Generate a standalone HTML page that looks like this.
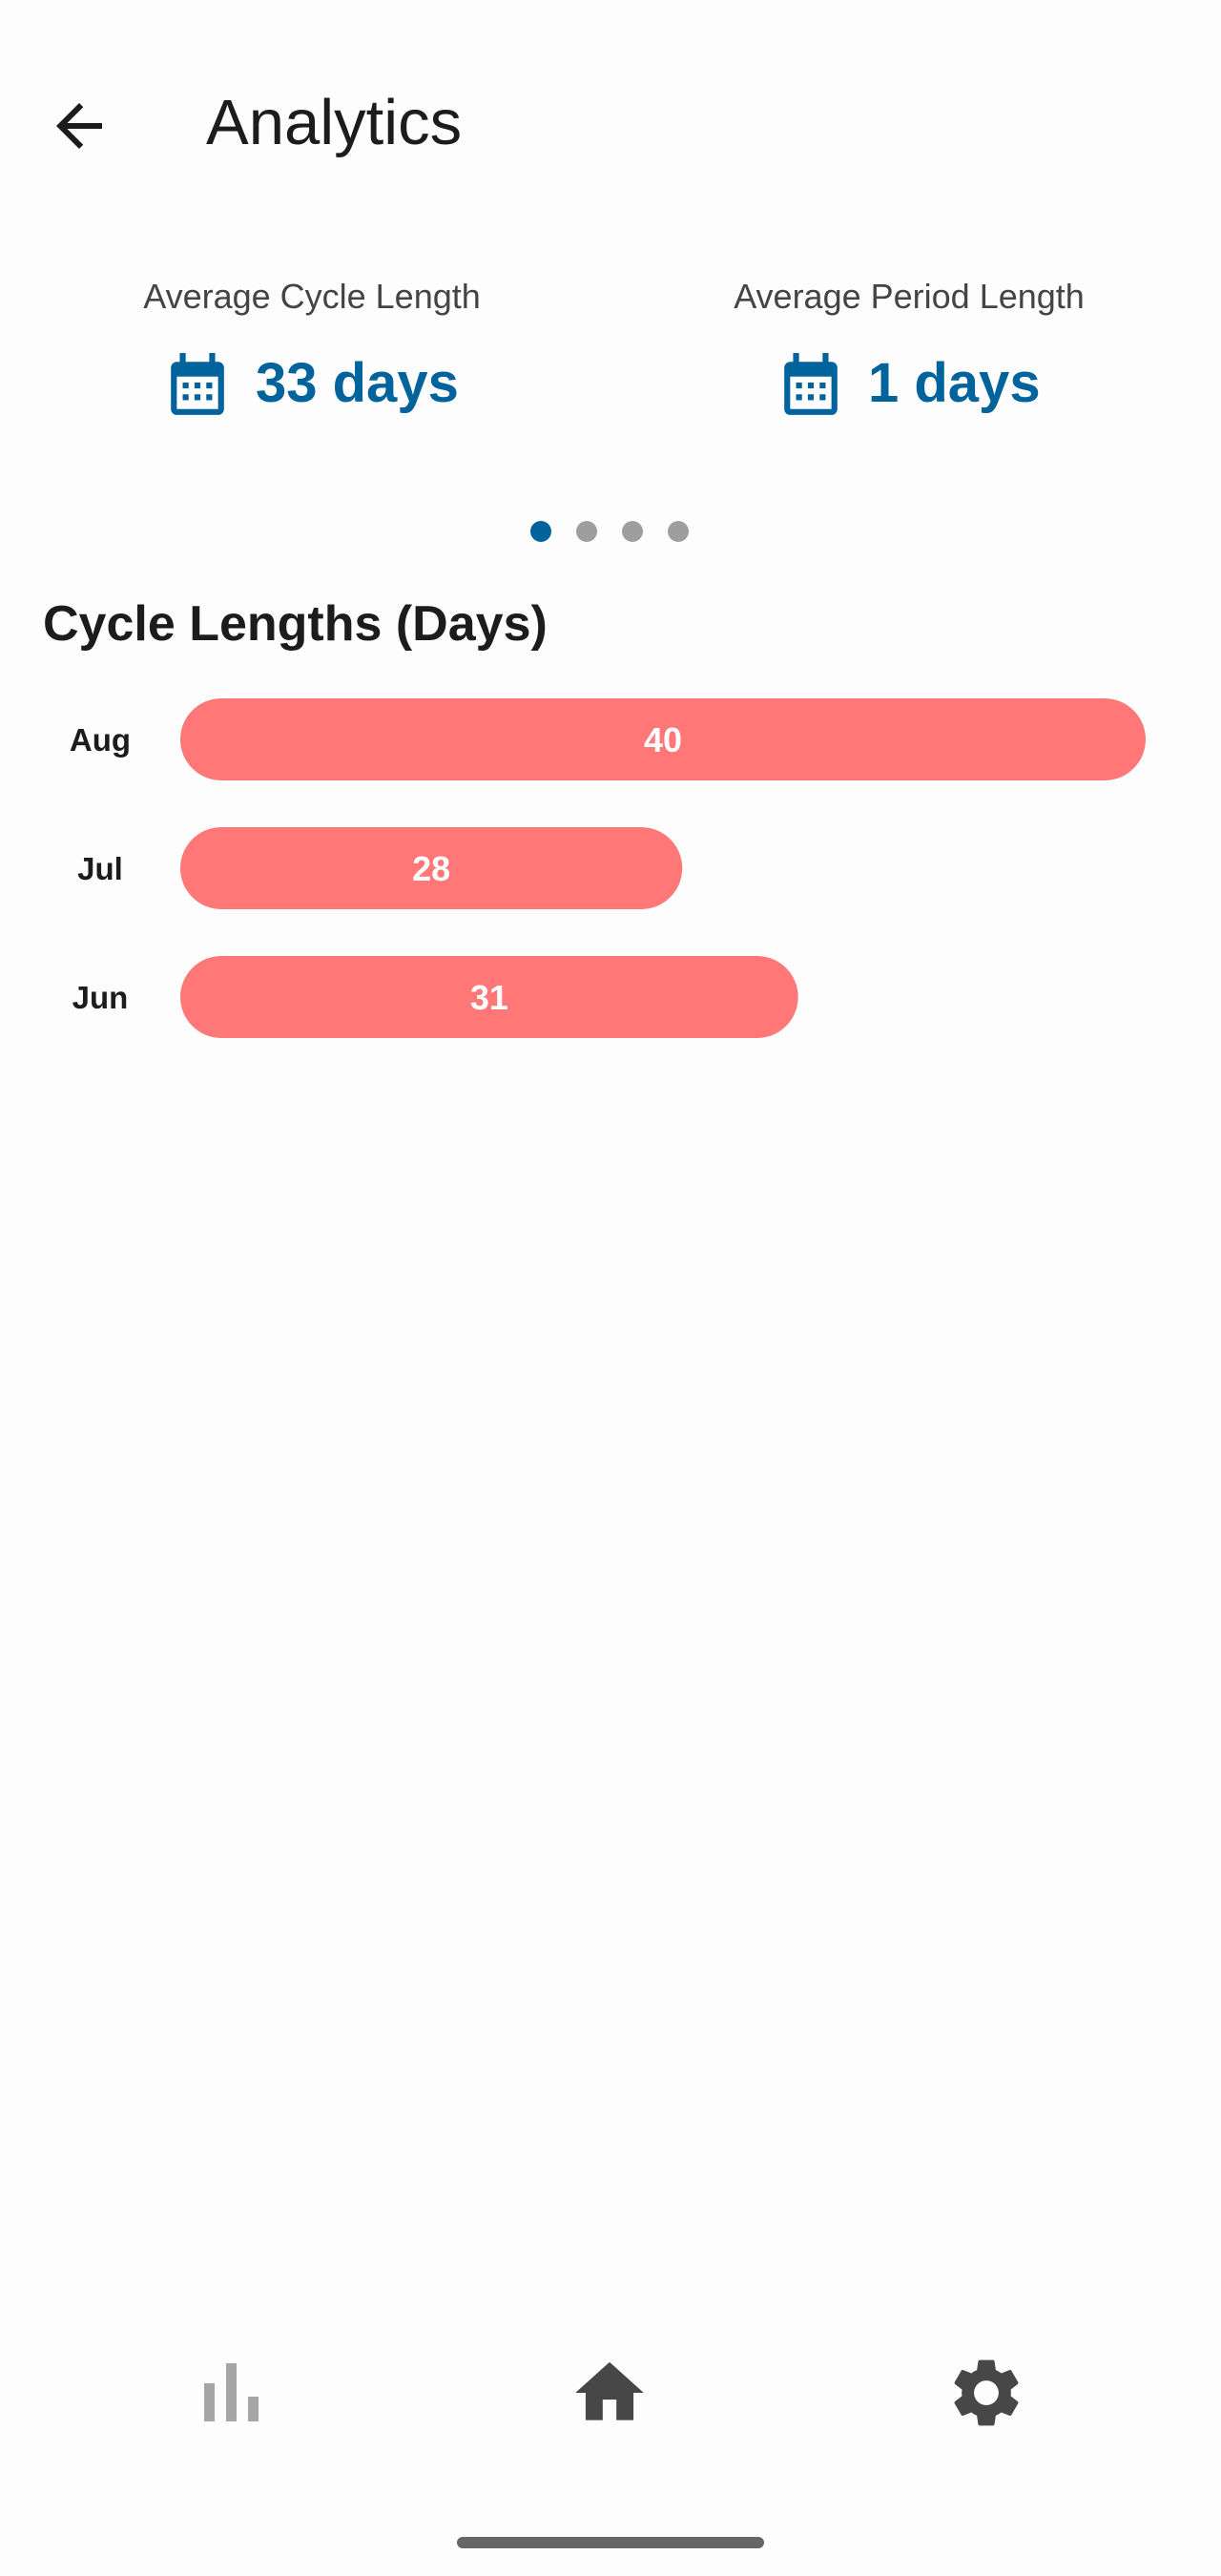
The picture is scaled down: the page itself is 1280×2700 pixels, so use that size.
<!DOCTYPE html>
<html><head><meta charset="utf-8">
<style>
html,body{margin:0;padding:0;}
body{width:1280px;height:2700px;background:#fdfdfd;position:relative;overflow:hidden;font-family:"Liberation Sans",sans-serif;}
.abs{position:absolute;}
.lbl{color:#444;font-size:36px;text-align:center;width:600px;}
.val{color:#00639b;font-size:58px;font-weight:bold;}
</style></head>
<body>
<svg class="abs" style="left:47px;top:96px" width="72" height="72" viewBox="0 0 24 24"><path d="M20 11H7.83l5.59-5.59L12 4l-8 8 8 8 1.41-1.41L7.83 13H20v-2z" fill="#1c1c1c"/></svg>
<div class="abs" style="left:216px;top:90px;font-size:67px;color:#1c1c1c;">Analytics</div>

<div class="abs lbl" style="left:27px;top:290px;">Average Cycle Length</div>
<div class="abs lbl" style="left:653px;top:290px;">Average Period Length</div>

<svg class="abs" style="left:176px;top:370px" width="62" height="68" viewBox="0 0 20 22"><rect x="1" y="3" width="18" height="18" rx="2" fill="#00639b"/><rect x="4" y="0" width="2" height="4" fill="#00639b"/><rect x="14" y="0" width="2" height="4" fill="#00639b"/><rect x="3" y="8" width="14" height="11" fill="#fdfdfd"/><g fill="#00639b"><rect x="5" y="10" width="2" height="2"/><rect x="9" y="10" width="2" height="2"/><rect x="13" y="10" width="2" height="2"/><rect x="5" y="14" width="2" height="2"/><rect x="9" y="14" width="2" height="2"/><rect x="13" y="14" width="2" height="2"/></g></svg>
<div class="abs val" style="left:268px;top:368px;">33 days</div>
<svg class="abs" style="left:819px;top:370px" width="62" height="68" viewBox="0 0 20 22"><rect x="1" y="3" width="18" height="18" rx="2" fill="#00639b"/><rect x="4" y="0" width="2" height="4" fill="#00639b"/><rect x="14" y="0" width="2" height="4" fill="#00639b"/><rect x="3" y="8" width="14" height="11" fill="#fdfdfd"/><g fill="#00639b"><rect x="5" y="10" width="2" height="2"/><rect x="9" y="10" width="2" height="2"/><rect x="13" y="10" width="2" height="2"/><rect x="5" y="14" width="2" height="2"/><rect x="9" y="14" width="2" height="2"/><rect x="13" y="14" width="2" height="2"/></g></svg>
<div class="abs val" style="left:910px;top:368px;">1 days</div>

<svg class="abs" style="left:0;top:541px" width="1280" height="32">
<circle cx="567" cy="16" r="11" fill="#00639b"/>
<circle cx="615" cy="16" r="11" fill="#9e9e9e"/>
<circle cx="663" cy="16" r="11" fill="#9e9e9e"/>
<circle cx="711" cy="16" r="11" fill="#9e9e9e"/>
</svg>

<div class="abs" style="left:45px;top:624px;font-size:52px;font-weight:bold;color:#1c1c1c;">Cycle Lengths (Days)</div>

<svg id="chart" class="abs" style="left:0;top:700px" width="1280" height="420"></svg>

<svg class="abs" style="left:210px;top:2474px" width="70" height="70" viewBox="0 0 70 70"><g fill="#a6a6a6"><rect x="4" y="24" width="11" height="40"/><rect x="27" y="3" width="11" height="61"/><rect x="50" y="38" width="11" height="26"/></g></svg>
<svg class="abs" style="left:596px;top:2465px" width="86" height="86" viewBox="0 0 24 24"><path d="M10 20v-6h4v6h5v-8h3L12 3 2 12h3v8z" fill="#474747"/></svg>
<svg class="abs" style="left:991px;top:2465px" width="86" height="86" viewBox="0 0 24 24"><path fill="#474747" d="M19.14 12.94c.04-.3.06-.61.06-.94 0-.32-.02-.64-.07-.94l2.03-1.580a.49.49 0 0 0 .12-.61l-1.92-3.32a.488.488 0 0 0-.59-.22l-2.39.96c-.5-.38-1.03-.7-1.62-.94l-.36-2.54a.484.484 0 0 0-.48-.41h-3.84c-.24 0-.43.17-.47.41l-.36 2.54c-.59.24-1.13.57-1.62.94l-2.39-.96c-.22-.08-.47 0-.59.22L2.74 8.87c-.12.21-.08.47.12.61l2.03 1.58c-.05.3-.09.63-.09.94s.02.64.07.94l-2.03 1.58a.49.49 0 0 0-.12.61l1.92 3.32c.12.22.37.29.59.22l2.39-.96c.5.38 1.03.7 1.62.94l.36 2.54c.05.24.24.41.48.41h3.84c.24 0 .44-.17.47-.41l.36-2.54c.59-.24 1.130-.56 1.62-.94l2.39.96c.22.08.47 0 .59-.22l1.92-3.32c.12-.22.07-.47-.12-.61l-2.01-1.58zM12 15.6c-1.98 0-3.6-1.62-3.6-3.6s1.62-3.6 3.6-3.6 3.6 1.62 3.6 3.6-1.62 3.6-3.6 3.6z"/></svg>
<div class="abs" style="left:479px;top:2659px;width:322px;height:12px;border-radius:6px;background:#666;"></div>

<script>
const categories = ["Aug", "Jul", "Jun"];
const cycleLengths = [40, 28, 31];
const axisDomain = [15, 40];
const NS = "http://www.w3.org/2000/svg";
const svg = document.getElementById("chart");
const x0 = 189, xW = 1012, rowStart = 75, rowStep = 135, barH = 86;
function xScale(v){ return (v - axisDomain[0]) / (axisDomain[1] - axisDomain[0]) * xW; }
function yCenter(i){ return rowStart + i * rowStep; }
categories.forEach((c, i) => {
  const w = xScale(cycleLengths[i]);
  const cy = yCenter(i);
  const r = document.createElementNS(NS, "rect");
  r.setAttribute("x", x0); r.setAttribute("y", cy - barH/2);
  r.setAttribute("width", w); r.setAttribute("height", barH);
  r.setAttribute("rx", barH/2); r.setAttribute("fill", "#ff7777");
  
  
  svg.appendChild(r);
  const t = document.createElementNS(NS, "text");
  t.setAttribute("x", x0 + w/2); t.setAttribute("y", cy + 13);
  t.setAttribute("text-anchor", "middle"); t.setAttribute("fill", "#fff");
  t.setAttribute("font-size", "36"); t.setAttribute("font-weight", "bold");
  t.setAttribute("font-family", "Liberation Sans, sans-serif");
  t.textContent = cycleLengths[i];
  
  
  svg.appendChild(t);
  const l = document.createElementNS(NS, "text");
  l.setAttribute("x", 105); l.setAttribute("y", cy + 12);
  l.setAttribute("text-anchor", "middle"); l.setAttribute("fill", "#1c1c1c");
  l.setAttribute("font-size", "33"); l.setAttribute("font-weight", "bold");
  l.setAttribute("font-family", "Liberation Sans, sans-serif");
  l.textContent = c;
  
  
  svg.appendChild(l);
});
</script>
</body></html>
